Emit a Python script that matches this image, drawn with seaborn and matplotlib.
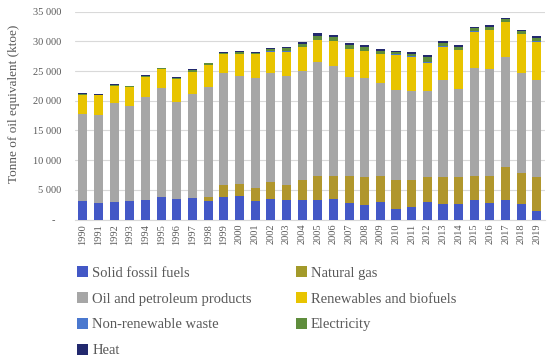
import matplotlib
matplotlib.use("Agg")
import matplotlib.pyplot as plt
import seaborn as sns
import pandas as pd
import numpy as np
from matplotlib.patches import Patch

years = [str(y) for y in range(1990, 2020)]

solid_fossil = [3090, 2870, 2980, 3150, 3320, 3820, 3430, 3710, 3150, 3770,
                3930, 3150, 3430, 3260, 3260, 3260, 3430, 2870, 2530, 2980,
                1850, 2140, 2980, 2700, 2640, 3260, 2810, 3370, 2640, 1460]
natural_gas = [0, 0, 0, 0, 0, 0, 0, 0, 670, 2020,
               2140, 2250, 2860, 2640, 3370, 4050, 3880, 4440, 4660, 4330,
               4890, 4600, 4210, 4490, 4550, 4050, 4500, 5510, 5120, 5730]
oil_petroleum = [14670, 14720, 16630, 15960, 17360, 18320, 16350, 17420, 18550, 18830,
                 18100, 18370, 18440, 18210, 18380, 19270, 18540, 16740, 16700, 15730,
                 15070, 14950, 14500, 16300, 14730, 18150, 17980, 18550, 16860, 16300]
renewables = [3200, 3310, 2930, 3200, 3370, 3150, 3880, 3770, 3710, 3200,
              3760, 4050, 3540, 4160, 3990, 3660, 4220, 4670, 4440, 4840,
              5950, 5740, 4720, 5620, 6630, 6180, 6630, 5780, 6570, 6460]
non_renewable_waste = [0, 0, 0, 0, 0, 0, 0, 0, 10, 10,
                       10, 10, 20, 20, 20, 30, 30, 30, 30, 30,
                       30, 30, 40, 40, 40, 40, 40, 40, 40, 40]
electricity = [180, 100, 130, 100, 140, 180, 180, 350, 200, 250,
               330, 250, 400, 520, 520, 710, 670, 590, 710, 480,
               410, 480, 900, 600, 510, 510, 480, 480, 440, 600]
heat = [100, 80, 90, 70, 90, 100, 100, 150, 120, 130,
        170, 130, 200, 300, 300, 380, 360, 330, 380, 270,
        240, 270, 300, 320, 290, 290, 270, 270, 250, 320]

series_names = ["Solid fossil fuels", "Natural gas", "Oil and petroleum products",
                "Renewables and biofuels", "Non-renewable waste", "Electricity", "Heat"]
series_values = [solid_fossil, natural_gas, oil_petroleum, renewables,
                 non_renewable_waste, electricity, heat]
colors = {
    "Solid fossil fuels": "#4358c6",
    "Natural gas": "#b0962c",
    "Oil and petroleum products": "#a6a6a6",
    "Renewables and biofuels": "#e8c400",
    "Non-renewable waste": "#4a78cf",
    "Electricity": "#5f8d3c",
    "Heat": "#22296e",
}

df = pd.DataFrame({"year": years})
for name, vals in zip(series_names, series_values):
    df[name] = vals
cum = df[series_names].cumsum(axis=1)

sns.set_style("white")
plt.rcParams["font.family"] = ["Liberation Serif", "DejaVu Serif"]
txt = "#595959"

fig = plt.figure(figsize=(5.5, 3.63), dpi=100)
ax = fig.add_axes([0.136, 0.395, 0.855, 0.573])

for name in reversed(series_names):
    sns.barplot(x=df["year"], y=cum[name], color=colors[name], ax=ax,
                width=0.58, saturation=1, linewidth=0, zorder=3)

ax.set_ylim(0, 35000)
ax.set_xlim(-0.52, len(years) - 0.48)
yt = list(range(0, 35001, 5000))
ax.set_yticks(yt)
ax.set_yticklabels(["-  "] + [f"{v:,}".replace(",", " ") for v in yt[1:]],
                   fontsize=7.5, color=txt)
ax.tick_params(axis="y", length=0, pad=10)
ax.tick_params(axis="x", length=0, pad=3, labelrotation=90, labelsize=7.5, labelcolor=txt)
ax.grid(axis="y", color="#d9d9d9", linewidth=0.8, zorder=0)
ax.set_axisbelow(True)
for s in ["top", "right", "left"]:
    ax.spines[s].set_visible(False)
ax.spines["bottom"].set_color("#d9d9d9")
ax.set_xlabel("")
ax.set_ylabel("")
fig.text(0.025, 0.715, "Tonne of oil equivalent (ktoe)", rotation=90,
         ha="center", va="center", fontsize=9.5, color=txt)

order = ["Solid fossil fuels", "Oil and petroleum products", "Non-renewable waste", "Heat",
         "Natural gas", "Renewables and biofuels", "Electricity"]
leg_colors = dict(colors)
leg_colors["Natural gas"] = "#a39a2a"
handles = [Patch(facecolor=leg_colors[n], edgecolor="none", label=n) for n in order]
fig.legend(handles=handles, loc="upper left", bbox_to_anchor=(0.127, 0.287),
           ncol=2, frameon=False, fontsize=10.5, labelcolor=txt,
           handlelength=0.75, handleheight=0.75, handletextpad=0.3,
           columnspacing=3.0, labelspacing=0.86, borderpad=0)

fig.savefig("out.png", dpi=100)
